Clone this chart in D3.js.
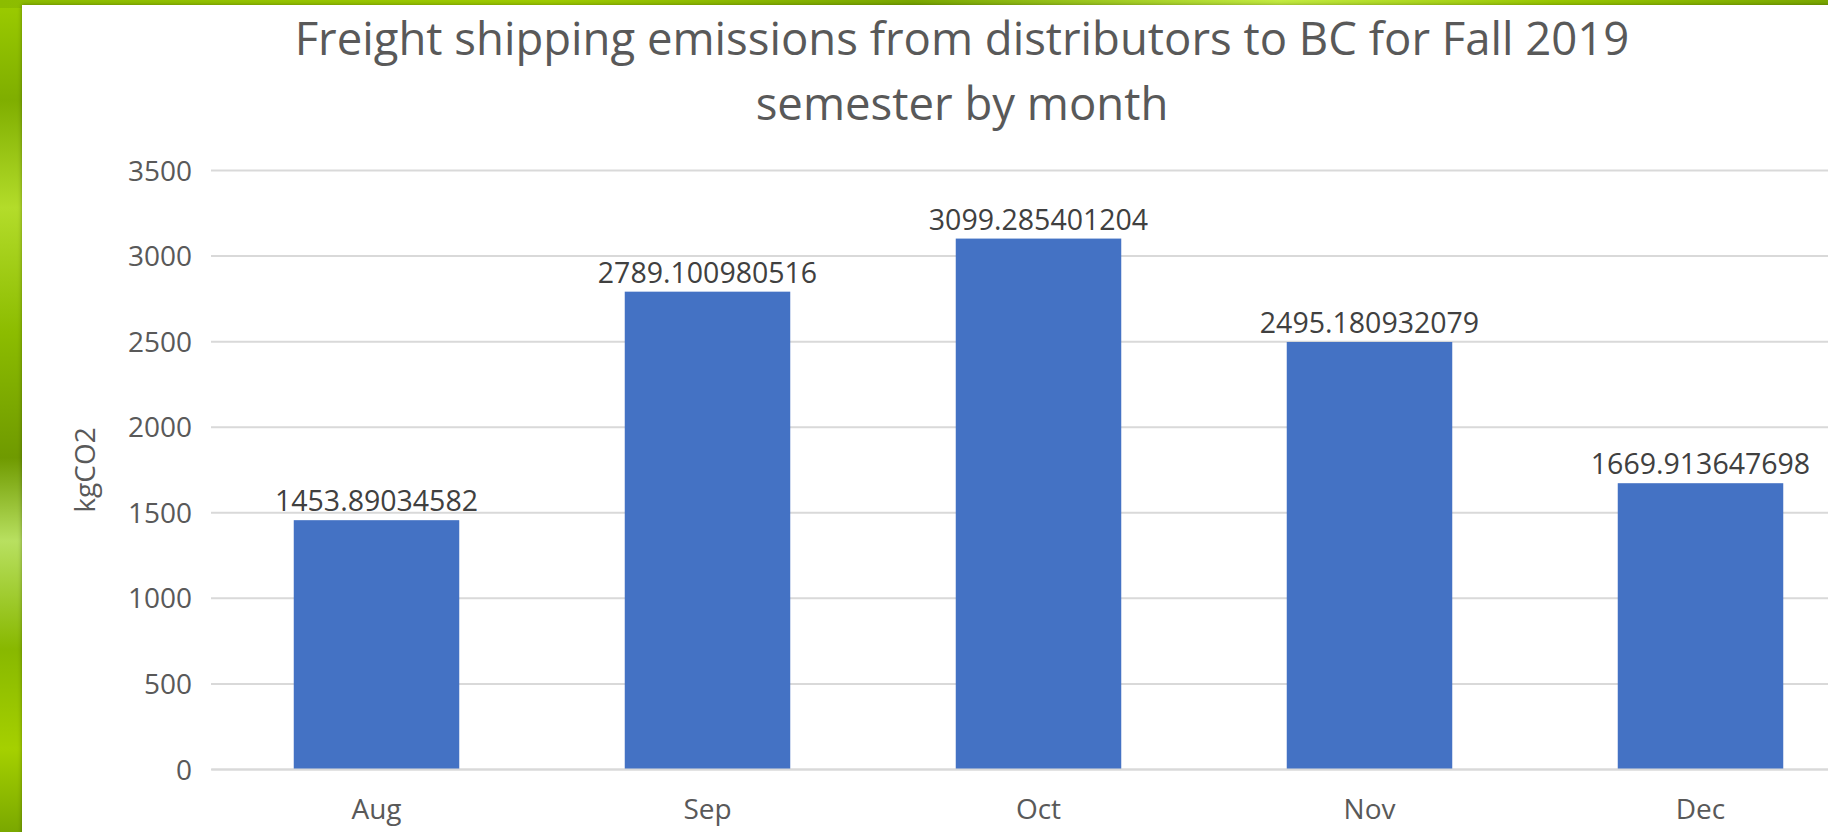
<!DOCTYPE html>
<html>
<head>
<meta charset="utf-8">
<script src="https://cdn.jsdelivr.net/npm/d3@7"></script>
<style>
  html, body { margin: 0; padding: 0; overflow: hidden; background: #8fbf00; }
  svg { display: block; }
</style>
</head>
<body>
<svg id="plotCanvas"></svg>
<script>
// chart data
var months = ["Aug", "Sep", "Oct", "Nov", "Dec"];
var emissions = [1453.89034582, 2789.100980516, 3099.285401204, 2495.180932079, 1669.913647698];
var emissionLabels = ["1453.89034582", "2789.100980516", "3099.285401204", "2495.180932079", "1669.913647698"];
var yTicks = [0, 500, 1000, 1500, 2000, 2500, 3000, 3500];
var titleLines = ["Freight shipping emissions from distributors to BC for Fall 2019", "semester by month"];
var yAxisTitle = "kgCO2";

var canvasWidth = 1828;
var canvasHeight = 832;
var fontFamily = "'Open Sans', 'Liberation Sans', sans-serif";

var canvas = d3.select("#plotCanvas")
        .attr("width", canvasWidth)
        .attr("height", canvasHeight);

var defs = canvas.append("defs");

//green leafy background
var grad = defs.append("linearGradient")
        .attr("id", "leaf")
        .attr("x1", "0").attr("y1", "0")
        .attr("x2", "0").attr("y2", "1");
[["0", "#9ccc00"], ["0.12", "#7fae00"], ["0.25", "#b3dc2a"], ["0.4", "#8cbc00"],
 ["0.55", "#6f9a00"], ["0.65", "#b8e060"], ["0.78", "#88b800"], ["0.9", "#a5d000"], ["1", "#7aa800"]]
    .forEach(function(s) {
        grad.append("stop").attr("offset", s[0]).attr("stop-color", s[1]);
    });

var gradTop = defs.append("linearGradient")
        .attr("id", "leafTop")
        .attr("x1", "0").attr("y1", "0")
        .attr("x2", "1").attr("y2", "0");
[["0", "#8cbc00"], ["0.3", "#9fcc00"], ["0.5", "#7aa800"], ["0.7", "#c4ec40"], ["0.85", "#99c800"], ["1", "#7aa800"]]
    .forEach(function(s) {
        gradTop.append("stop").attr("offset", s[0]).attr("stop-color", s[1]);
    });

defs.append("filter")
        .attr("id", "shadow")
        .attr("x", "-5%").attr("y", "-5%")
        .attr("width", "110%").attr("height", "110%")
        .append("feDropShadow")
        .attr("dx", 0).attr("dy", 0)
        .attr("stdDeviation", 2)
        .attr("flood-color", "#000")
        .attr("flood-opacity", 0.35);

canvas.append("rect")
        .attr("x", 0).attr("y", 0)
        .attr("width", canvasWidth).attr("height", canvasHeight)
        .attr("fill", "url(#leaf)");

canvas.append("rect")
        .attr("x", 0).attr("y", 0)
        .attr("width", canvasWidth).attr("height", 8)
        .attr("fill", "url(#leafTop)");

//white chart area, runs past the right and bottom edge
canvas.append("rect")
        .attr("x", 22).attr("y", 5)
        .attr("width", canvasWidth)
        .attr("height", canvasHeight)
        .attr("fill", "white")
        .attr("filter", "url(#shadow)");

//plot area
var plotLeft = 211;
var plotRight = 1866;
var plotTop = 170;
var plotBottom = 769;

var x = d3.scaleBand()
        .domain(months)
        .range([plotLeft, plotRight])
        .paddingInner(0.5)
        .paddingOuter(0.25);

var y = d3.scaleLinear()
        .domain([0, 3500])
        .range([plotBottom, plotTop]);

//gridlines and tick labels through a d3 axis
var yAxis = canvas.append("g")
        .attr("transform", "translate(" + plotLeft + ",0)")
        .call(d3.axisLeft(y).tickValues(yTicks).tickFormat(d3.format("d"))
            .tickSize(-(plotRight - plotLeft)).tickPadding(19));

yAxis.select(".domain").remove();
yAxis.selectAll(".tick line")
        .attr("stroke", "#d9d9d9")
        .attr("stroke-width", 2);
yAxis.selectAll(".tick text")
        .attr("fill", "#595959")
        .attr("font-family", fontFamily)
        .attr("font-size", "28px")
        .attr("dy", "0.36em");

//bars
canvas.append("g").selectAll("rect")
        .data(emissions)
        .join("rect")
        .attr("x", function(d, i) { return x(months[i]); })
        .attr("y", function(d) { return y(d); })
        .attr("width", x.bandwidth())
        .attr("height", function(d) { return y(0) - y(d); })
        .attr("fill", "#4472c4");

//value labels above the bars
canvas.append("g").selectAll("text")
        .data(emissions)
        .join("text")
        .attr("x", function(d, i) { return x(months[i]) + x.bandwidth()/2; })
        .attr("y", function(d) { return y(d) - 9; })
        .attr("text-anchor", "middle")
        .attr("fill", "#404040")
        .attr("font-family", fontFamily)
        .attr("font-size", "28.5px")
        .text(function(d, i) { return emissionLabels[i]; });

//category axis
var xAxis = canvas.append("g")
        .attr("transform", "translate(0," + plotBottom + ")")
        .call(d3.axisBottom(x).tickSize(0).tickPadding(30));

xAxis.select(".domain")
        .attr("stroke", "#d9d9d9")
        .attr("stroke-width", 2);
xAxis.selectAll(".tick text")
        .attr("fill", "#595959")
        .attr("font-family", fontFamily)
        .attr("font-size", "28px")
        .attr("dy", "0.71em");

//axis title
canvas.append("text")
        .attr("transform", "translate(95,470) rotate(-90)")
        .attr("text-anchor", "middle")
        .attr("fill", "#595959")
        .attr("font-family", fontFamily)
        .attr("font-size", "28px")
        .text(yAxisTitle);

//chart title, font fitted to the width of the first line
var titleY = [55, 120];
var title = canvas.append("g");
titleLines.forEach(function(line, i) {
    title.append("text")
            .attr("x", 962)
            .attr("y", titleY[i])
            .attr("text-anchor", "middle")
            .attr("fill", "#595959")
            .attr("font-family", fontFamily)
            .attr("font-size", "44px")
            .text(line);
});

var firstLine = title.select("text").node();
var titleSize = 44 * 1335 / firstLine.getComputedTextLength();
title.selectAll("text").attr("font-size", titleSize + "px");
</script>
</body>
</html>
